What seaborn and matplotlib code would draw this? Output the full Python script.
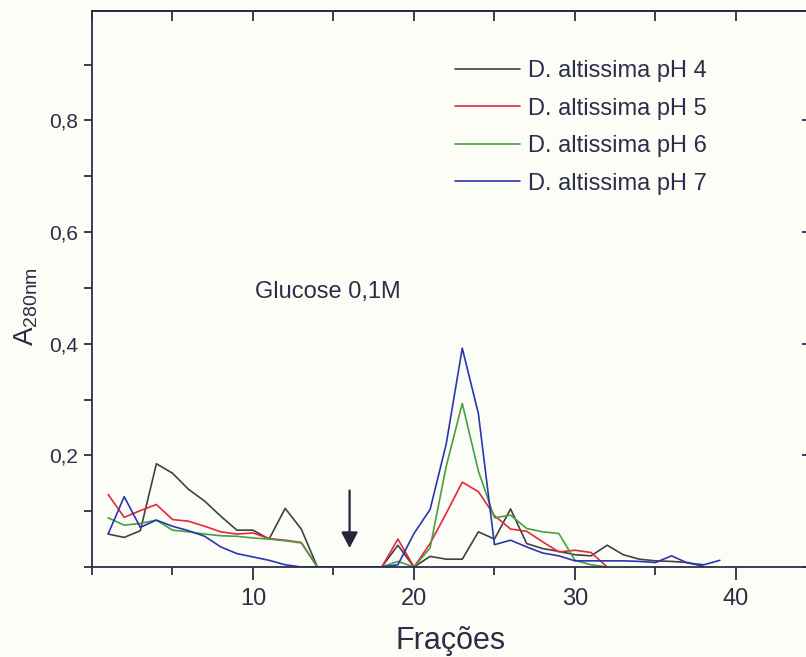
import matplotlib
matplotlib.use("Agg")
import matplotlib.pyplot as plt
import seaborn as sns
import pandas as pd
from matplotlib.ticker import MultipleLocator, FuncFormatter

# ---------------- data ----------------
series_names = ["D. altissima pH 4", "D. altissima pH 5", "D. altissima pH 6", "D. altissima pH 7"]

frac_ph4 = list(range(1, 39))
abs_ph4 = [0.059, 0.053, 0.065, 0.185, 0.168, 0.139, 0.118, 0.091, 0.066, 0.066,
           0.050, 0.105, 0.068, 0.0, 0.0, 0.0, 0.0, 0.0, 0.039, 0.0,
           0.019, 0.014, 0.014, 0.063, 0.050, 0.104, 0.042, 0.033, 0.028, 0.022,
           0.020, 0.039, 0.022, 0.014, 0.011, 0.010, 0.008, 0.001]

frac_ph5 = list(range(1, 33))
abs_ph5 = [0.130, 0.089, 0.101, 0.112, 0.085, 0.082, 0.073, 0.063, 0.059, 0.061,
           0.051, 0.048, 0.044, 0.0, 0.0, 0.0, 0.0, 0.0, 0.050, 0.0,
           0.042, 0.096, 0.152, 0.135, 0.092, 0.068, 0.064, 0.045, 0.027, 0.030,
           0.026, 0.0]

frac_ph6 = list(range(1, 33))
abs_ph6 = [0.088, 0.075, 0.078, 0.084, 0.066, 0.063, 0.059, 0.056, 0.055, 0.052,
           0.050, 0.047, 0.043, 0.0, 0.0, 0.0, 0.0, 0.0, 0.010, 0.0,
           0.034, 0.180, 0.293, 0.172, 0.088, 0.093, 0.069, 0.063, 0.060, 0.012,
           0.004, 0.0]

frac_ph7 = list(range(1, 40))
abs_ph7 = [0.059, 0.126, 0.071, 0.084, 0.073, 0.065, 0.055, 0.036, 0.024, 0.018,
           0.012, 0.004, 0.0, 0.0, 0.0, 0.0, 0.0, 0.0, 0.004, 0.060,
           0.103, 0.220, 0.392, 0.275, 0.040, 0.048, 0.036, 0.025, 0.020, 0.011,
           0.011, 0.011, 0.011, 0.010, 0.008, 0.020, 0.007, 0.004, 0.012]

x_ticks = [10, 20, 30, 40]
y_ticks = [0.2, 0.4, 0.6, 0.8]
annotation_text = "Glucose 0,1M"
arrow_fraction = 16
x_label = "Frações"
y_label = "A$_{\\mathregular{280nm}}$"

colors = ["#404048", "#e3283c", "#45a040", "#2a36b0"]

# ---------------- build table ----------------
frames = []
for name, fx, ay in zip(series_names,
                        [frac_ph4, frac_ph5, frac_ph6, frac_ph7],
                        [abs_ph4, abs_ph5, abs_ph6, abs_ph7]):
    frames.append(pd.DataFrame({"Fração": fx, "A": ay, "Série": name}))
df = pd.concat(frames, ignore_index=True)

# ---------------- style ----------------
sns.set_style("ticks")
plt.rcParams["font.family"] = ["Liberation Sans", "DejaVu Sans"]
plt.rcParams["mathtext.default"] = "regular"
ink = "#2b2e48"
bg = "#fdfdf8"

W, H = 806, 657
fig = plt.figure(figsize=(W / 100, H / 100), dpi=100, facecolor=bg)
left_px, right_px, top_px, bottom_px = 92, 810, 11, 567
ax = fig.add_axes([left_px / W, 1 - bottom_px / H, (right_px - left_px) / W, (bottom_px - top_px) / H])
ax.set_facecolor(bg)

sns.lineplot(data=df, x="Fração", y="A", hue="Série", hue_order=series_names,
             palette=colors, linewidth=1.2, ax=ax, legend=True, sort=False)

ax.set_xlim(0, 44.6)
ax.set_ylim(0, 0.996)

ax.xaxis.set_major_locator(MultipleLocator(10))
ax.xaxis.set_minor_locator(MultipleLocator(5))
ax.yaxis.set_major_locator(MultipleLocator(0.2))
ax.yaxis.set_minor_locator(MultipleLocator(0.1))
ax.set_xticks(x_ticks)
ax.set_yticks(y_ticks)
ax.yaxis.set_major_formatter(FuncFormatter(lambda v, p: f"{v:.1f}".replace(".", ",")))

for s in ax.spines.values():
    s.set_color(ink)
    s.set_linewidth(1.3)

ax.tick_params(axis="x", which="major", direction="out", length=9, width=1.3, color=ink,
               labelsize=17, labelcolor=ink, pad=6)
ax.tick_params(axis="x", which="minor", direction="out", length=6, width=1.3, color=ink)
ax.tick_params(axis="y", which="major", direction="out", length=6, width=1.3, color=ink,
               labelsize=15, labelcolor=ink, pad=4)
ax.tick_params(axis="y", which="minor", direction="out", length=6, width=1.3, color=ink)

# top axis with inward ticks
top = ax.secondary_xaxis("top")
top.xaxis.set_major_locator(MultipleLocator(5))
top.tick_params(axis="x", which="major", direction="in", length=7, width=1.3, color=ink, labeltop=False)
top.spines["top"].set_color(ink)
top.spines["top"].set_linewidth(1.3)
# right axis with inward ticks
right = ax.secondary_yaxis("right")
right.yaxis.set_major_locator(MultipleLocator(0.2))
right.tick_params(axis="y", which="major", direction="in", length=6, width=1.3, color=ink, labelright=False)

ax.set_xlabel(x_label, fontsize=22, color=ink, labelpad=12)
ax.set_ylabel(y_label, fontsize=20, color=ink)
ax.yaxis.set_label_coords(-0.072, 0.468)

ax.text(10.1, 0.493, annotation_text, fontsize=17, color=ink, va="center", ha="left")
ax.annotate("", xy=(arrow_fraction, 0.034), xytext=(arrow_fraction, 0.137),
            arrowprops=dict(arrowstyle="-|>,head_length=0.95,head_width=0.5",
                            color="#23253a", lw=1.6, shrinkA=0, shrinkB=0))

leg = ax.legend(loc="upper left", bbox_to_anchor=(455 / W, 1 - 60 / H),
                bbox_transform=fig.transFigure, frameon=False, fontsize=17,
                handlelength=2.75, handletextpad=0.35, labelspacing=0.66,
                borderpad=0, borderaxespad=0)
for t in leg.get_texts():
    t.set_color(ink)
for l in leg.get_lines():
    l.set_linewidth(1.2)

fig.savefig("out.png", dpi=100, facecolor=bg)
